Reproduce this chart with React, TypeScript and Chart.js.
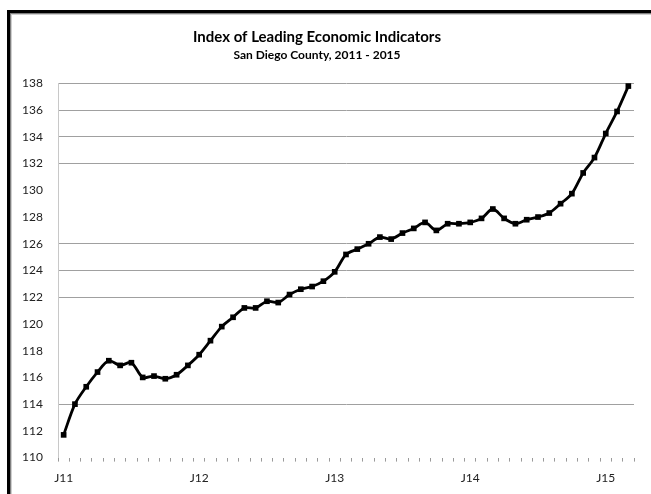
import React, { useEffect, useRef } from "react";
import { Chart, registerables } from "chart.js";

Chart.register(...registerables);

// Monthly index values, Jan 2011 – Mar 2015
const values2011 = [111.7, 114.0, 115.3, 116.4, 117.25, 116.9, 117.1, 116.0, 116.1, 115.9, 116.2, 116.9];
const values2012 = [117.7, 118.75, 119.8, 120.5, 121.2, 121.2, 121.7, 121.6, 122.2, 122.6, 122.8, 123.2];
const values2013 = [123.9, 125.2, 125.6, 126.0, 126.5, 126.35, 126.8, 127.15, 127.6, 127.0, 127.5, 127.5];
const values2014 = [127.6, 127.9, 128.6, 127.9, 127.5, 127.8, 128.0, 128.3, 129.0, 129.75, 131.3, 132.45];
const values2015 = [134.25, 135.9, 137.8];

const indexValues = [...values2011, ...values2012, ...values2013, ...values2014, ...values2015];

const yearSuffixes = ["11", "12", "13", "14", "15"];
const monthLetters = ["J", "F", "M", "A", "M", "J", "J", "A", "S", "O", "N", "D"];
// Only January of each year carries a visible label
const yearTickLabels = ["J11", "J12", "J13", "J14", "J15"];

const categories: string[] = [];
yearSuffixes.forEach((yy) => monthLetters.forEach((m, i) => categories.push(`${m}${yy}-${i + 1}`)));
const monthCategories = categories.slice(0, indexValues.length);

// Horizontal rules that are drawn across the plot
const ruledValues = [138, 136, 134, 132, 126, 124, 122, 114];

const FONT = "Lato, 'Liberation Sans', sans-serif";

export default function App() {
  const canvasRef = useRef<HTMLCanvasElement | null>(null);

  useEffect(() => {
    const canvas = canvasRef.current;
    if (!canvas) return;
    const chart = new Chart(canvas, {
      type: "line",
      data: {
        labels: monthCategories,
        datasets: [
          {
            data: indexValues,
            borderColor: "#000000",
            backgroundColor: "#000000",
            borderWidth: 2.8,
            tension: 0.3,
            pointStyle: "rect",
            pointRadius: 4,
            pointBorderWidth: 0,
            pointBackgroundColor: "#000000",
            clip: false as any,
          },
        ],
      },
      options: {
        animation: false,
        responsive: false,
        maintainAspectRatio: false,
        layout: { padding: { left: 0, right: 17, top: 0, bottom: 0 } },
        plugins: {
          legend: { display: false },
          tooltip: { enabled: false },
          title: {
            display: true,
            text: "Index of Leading Economic Indicators",
            color: "#000000",
            font: { family: FONT, size: 15, weight: "bold", lineHeight: 1.2 },
            padding: { top: 28, bottom: 2 },
          },
          subtitle: {
            display: true,
            text: "San Diego County, 2011 - 2015",
            color: "#000000",
            font: { family: FONT, size: 12, weight: "bold", lineHeight: 1.2 },
            padding: { top: 0, bottom: 21 },
          },
        },
        scales: {
          x: {
            type: "category",
            offset: true,
            border: { display: false },
            grid: {
              offset: true,
              drawOnChartArea: false,
              drawTicks: true,
              tickLength: 4,
              tickColor: "#9a9a9a",
              tickWidth: 1,
            },
            ticks: {
              autoSkip: false,
              maxRotation: 0,
              minRotation: 0,
              padding: 9,
              color: "#222222",
              font: { family: FONT, size: 12 },
              callback: (_v: any, i: number) => (i % 12 === 0 ? yearTickLabels[i / 12] : ""),
            },
            afterFit: (s: any) => {
              s.height = 494 - 457.6;
            },
          },
          y: {
            min: 110,
            max: 138,
            border: { display: true, color: "#c8c8c8", width: 1 },
            grid: {
              drawTicks: false,
              lineWidth: 1,
              color: (ctx: any) =>
                ctx.tick && ruledValues.includes(ctx.tick.value) ? "#a0a0a0" : "rgba(0,0,0,0)",
            },
            ticks: {
              stepSize: 2,
              padding: 15,
              color: "#222222",
              font: { family: FONT, size: 12 },
            },
            afterFit: (s: any) => {
              s.width = 58;
            },
          },
        },
      },
    });
    return () => chart.destroy();
  }, []);

  return (
    <div
      style={{
        position: "fixed",
        left: 0,
        top: 0,
        width: 651,
        height: 494,
        overflow: "hidden",
        background: "#ffffff",
      }}
    >
      <div
        style={{
          position: "absolute",
          left: 7,
          top: 10,
          width: 700,
          height: 600,
          borderLeft: "3px solid #000000",
          borderTop: "3px solid #000000",
          boxShadow: "inset 1px 1px 0 #808080, inset 2px 2px 0 #cfcfcf",
        }}
      />
      <canvas
        ref={canvasRef}
        width={651}
        height={494}
        style={{ position: "absolute", left: 0, top: 0, display: "block" }}
      />
    </div>
  );
}
